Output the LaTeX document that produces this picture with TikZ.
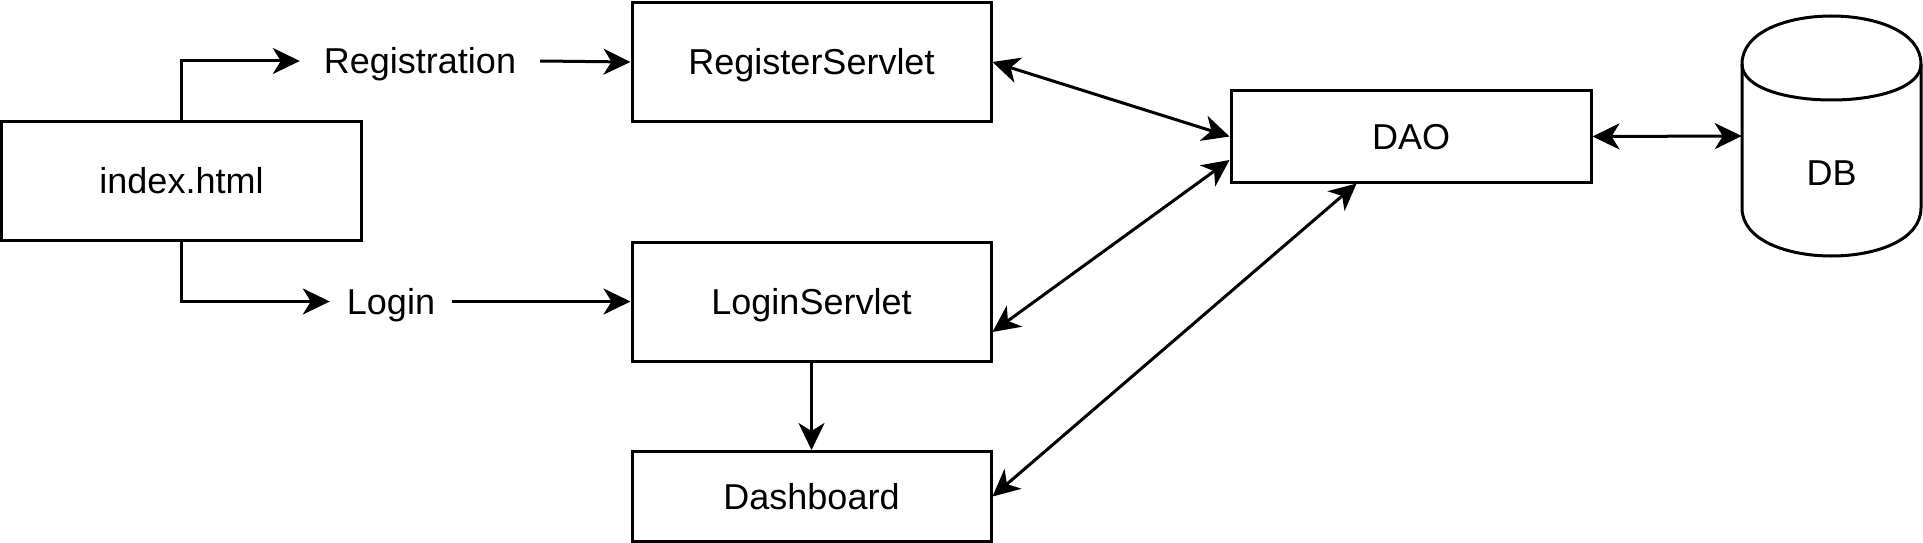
\documentclass[tikz,border=0pt]{standalone}
\usepackage{fontspec}
\setmainfont{Liberation Sans}
\usetikzlibrary{arrows.meta,calc}
\tikzset{
  txt/.style={font=\fontsize{36}{43}\selectfont, text height=25.8pt, text depth=0pt, inner sep=0pt},
  box/.style={txt, draw, line width=3pt, minimum width=359pt},
  lbl/.style={txt},
  tip/.tip={Stealth[length=27pt,width=26pt,inset=8pt]},
  conn/.style={line width=3pt, -tip},
  biconn/.style={line width=3pt, tip-tip},
  cyl/.style={line width=3pt},
}
\begin{document}
\begin{tikzpicture}[x=1pt,y=-1pt]
\useasboundingbox (0,0) rectangle (1923,543);

\node[box, minimum width=360pt, minimum height=119pt] (index) at (181.5,181) {index.html};
\node[box, minimum height=119pt] (reg) at (811.5,62) {RegisterServlet};
\node[box, minimum height=119pt] (login) at (811.5,301.5) {LoginServlet};
\node[box, minimum height=90pt] (dash) at (811.5,496.5) {Dashboard};
\node[box, minimum width=360pt, minimum height=91pt] (dao) at (1411,136.5) {DAO};

\node[lbl, minimum width=240pt] (reglab) at (420,61) {Registration};
\node[lbl, minimum width=122pt] (loginlab) at (391,301.5) {Login};

% DB cylinder
\node[txt, minimum width=179pt, minimum height=240pt] (db) at (1831.5,136) {};
\draw[cyl] (1742,64) .. controls (1742,0) and (1921,0) .. (1921,64)
  -- (1921,208) .. controls (1921,272) and (1742,272) .. (1742,208) -- cycle;
\draw[cyl] (1742,64) .. controls (1742,112) and (1921,112) .. (1921,64);
\node[txt] (dblab) at (1831.5,173) {DB};

% connectors
\draw[conn] (index.north) |- (reglab.west);
\draw[conn] (reglab.east) -- (reg.west);
\draw[conn] (index.south) |- (loginlab.west);
\draw[conn] (loginlab.east) -- (login.west);
\draw[conn] (login.south) -- (dash.north);
\draw[biconn] (reg.east) -- (dao.west);
\draw[biconn] ($(login.south east)!0.25!(login.north east)$) -- ($(dao.south west)!0.25!(dao.north west)$);
\draw[biconn] (dash.east) -- ($(dao.south west)!0.35!(dao.south east)$);
\draw[biconn] (dao.east) -- (db.west);
\end{tikzpicture}
\end{document}
